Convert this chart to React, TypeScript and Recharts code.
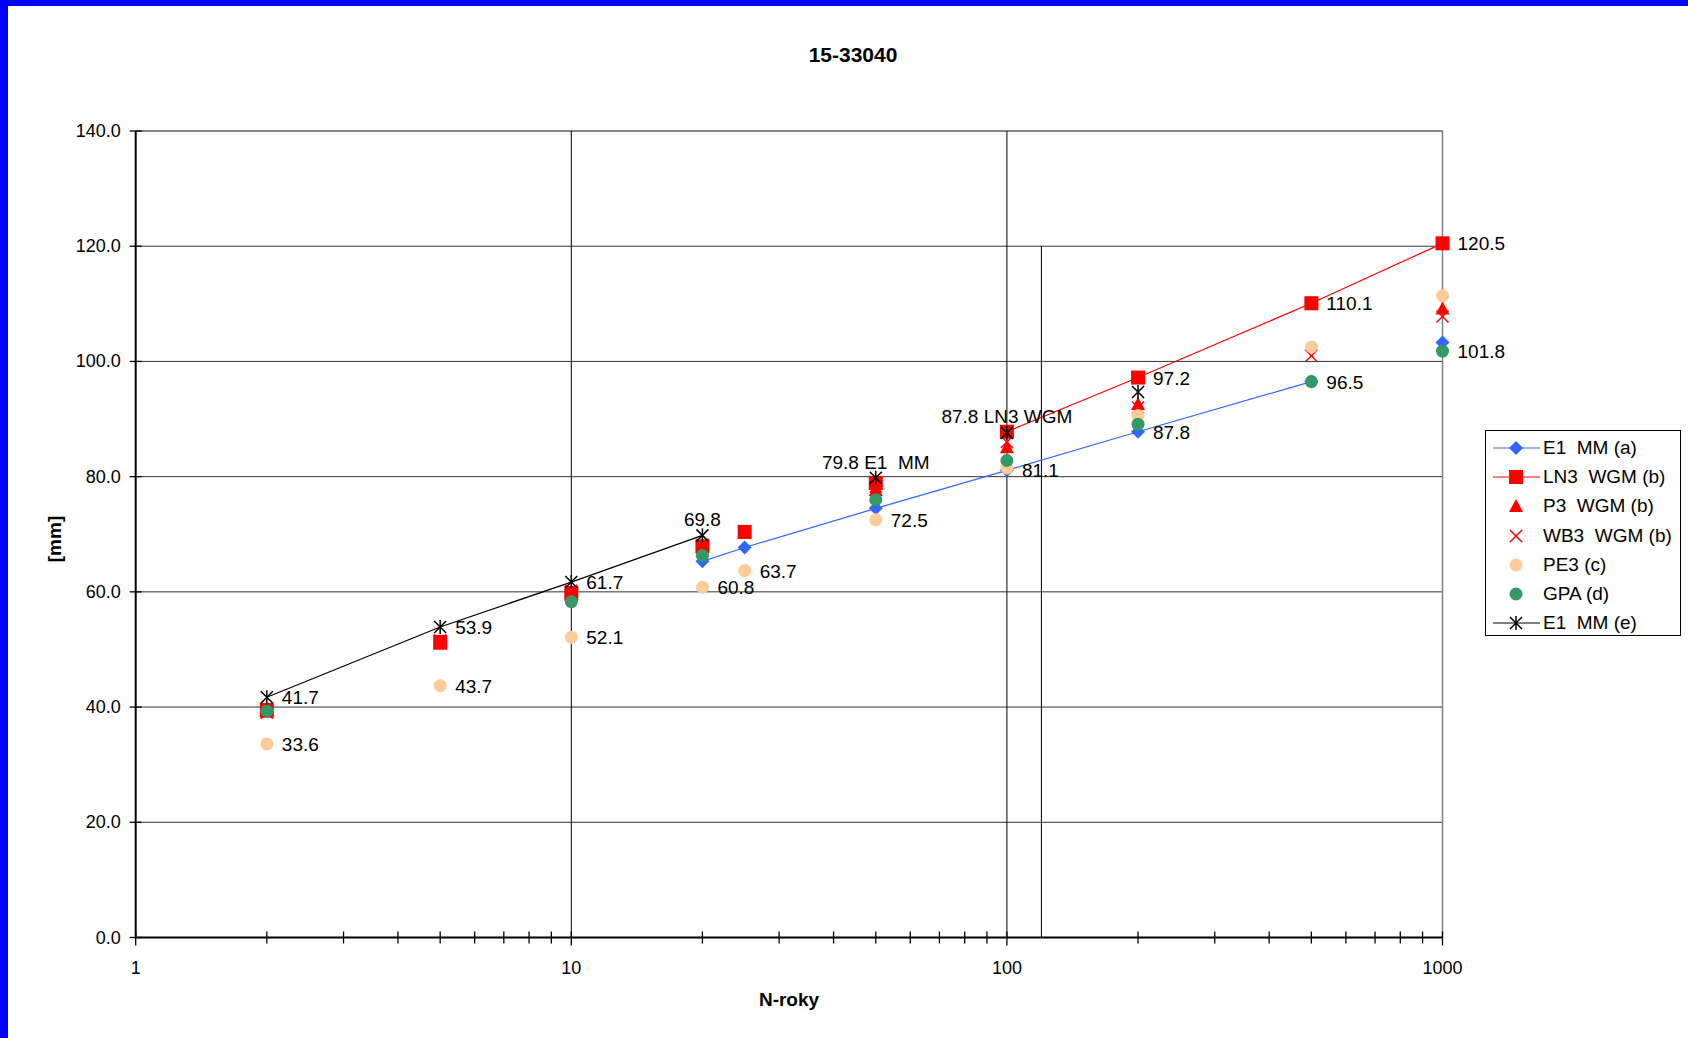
import React from 'react';
import { ScatterChart, Scatter, XAxis, YAxis, CartesianGrid, ReferenceLine } from 'recharts';

// return periods (years)
const YEARS = [2, 5, 10, 20, 25, 50, 100, 200, 500, 1000];

// values in mm, null = no point
const E1_MM_A = [null, null, null, 65.3, 67.7, 74.5, 81.1, 87.8, 96.5, 103.3];
const LN3_WGM = [39.5, 51.3, 59.8, 67.9, 70.4, 78.9, 87.8, 97.2, 110.1, 120.5];
const P3_WGM = [39.2, 51.0, 59.4, 67.2, null, 77.7, 85.1, 92.6, null, 109.2];
const WB3_WGM = [39.0, 51.6, 60.2, 68.2, null, 78.3, 86.0, 92.0, 101.0, 107.8];
const PE3 = [33.6, 43.7, 52.1, 60.8, 63.7, 72.5, 81.5, 90.6, 102.5, 111.4];
const GPA = [39.3, null, 58.3, 66.3, null, 76.0, 82.8, 89.1, 96.5, 101.8];
const E1_MM_E = [41.7, 53.9, 61.7, 69.8, null, 79.8, 87.6, 94.7, null, null];

// data labels
const E1A_LABELS = [null, null, null, null, null, null, '81.1', '87.8', null, null];
const LN3_LABELS = [null, null, null, null, null, null, '87.8 LN3 WGM', '97.2', '110.1', '120.5'];
const PE3_LABELS = ['33.6', '43.7', '52.1', '60.8', '63.7', '72.5', null, null, null, null];
const GPA_LABELS = [null, null, null, null, null, null, null, null, '96.5', '101.8'];
const E1E_LABELS = ['41.7', '53.9', '61.7', '69.8', null, '79.8 E1  MM', null, null, null, null];
const ABOVE_LABELS = ['69.8', '79.8 E1  MM', '87.8 LN3 WGM'];

// which years are joined by a line
const E1A_LINE = [20, 500];
const LN3_LINE = [100, 1000];
const E1E_LINE = [2, 20];

const X_TICKS = [1, 2, 3, 4, 5, 6, 7, 8, 9, 10, 20, 30, 40, 50, 60, 70, 80, 90, 100, 200, 300, 400, 500, 600, 700, 800, 900, 1000];
const X_LABELS = [1, 10, 100, 1000];
const Y_TICKS = [0, 20, 40, 60, 80, 100, 120, 140];

const FONT = '"Liberation Sans", Arial, sans-serif';

const pts = (vals: (number | null)[], labels?: (string | null)[]) =>
  YEARS.map((x, i) => ({ x, y: vals[i], label: labels ? labels[i] : null })).filter((p) => p.y != null);

const span = (vals: (number | null)[], range: number[]) =>
  pts(vals).filter((p) => p.x >= range[0] && p.x <= range[1]);

function Marker({ kind, cx, cy }: { kind: string; cx: number; cy: number }) {
  switch (kind) {
    case 'diamond':
      return <polygon points={`${cx},${cy - 7} ${cx + 7},${cy} ${cx},${cy + 7} ${cx - 7},${cy}`} fill="#3366ff" />;
    case 'square':
      return <rect x={cx - 7} y={cy - 7} width={14} height={14} fill="#ff0000" />;
    case 'triangle':
      return <polygon points={`${cx},${cy - 7} ${cx + 7},${cy + 6} ${cx - 7},${cy + 6}`} fill="#ff0000" />;
    case 'x':
      return (
        <g stroke="#ff0000" strokeWidth={1.5}>
          <line x1={cx - 6} y1={cy - 6} x2={cx + 6} y2={cy + 6} />
          <line x1={cx - 6} y1={cy + 6} x2={cx + 6} y2={cy - 6} />
        </g>
      );
    case 'peach':
      return <circle cx={cx} cy={cy} r={6.5} fill="#ffcc99" />;
    case 'green':
      return <circle cx={cx} cy={cy} r={6.5} fill="#339966" />;
    case 'star':
      return (
        <g stroke="#000" strokeWidth={1.5}>
          <line x1={cx - 6} y1={cy - 6} x2={cx + 6} y2={cy + 6} />
          <line x1={cx - 6} y1={cy + 6} x2={cx + 6} y2={cy - 6} />
          <line x1={cx} y1={cy - 7} x2={cx} y2={cy + 7} />
        </g>
      );
    default:
      return null;
  }
}

const shapeFor = (kind: string) => (props: any) => {
  const { cx, cy, payload } = props;
  const label = payload && payload.label;
  let text = null;
  if (label) {
    const above = ABOVE_LABELS.includes(label);
    text = above ? (
      <text x={cx} y={cy - 9} textAnchor="middle" fontSize={19} fontFamily={FONT} fill="#000" style={{ whiteSpace: 'pre' }}>
        {label}
      </text>
    ) : (
      <text x={cx + 15} y={cy + 7} textAnchor="start" fontSize={19} fontFamily={FONT} fill="#000" style={{ whiteSpace: 'pre' }}>
        {label}
      </text>
    );
  }
  return (
    <g>
      <Marker kind={kind} cx={cx} cy={cy} />
      {text}
    </g>
  );
};

const noShape = () => <g />;

const XTick = (props: any) => {
  const { x, y, payload } = props;
  const major = X_LABELS.includes(payload.value);
  return (
    <g>
      <line x1={x} y1={y - 6} x2={x} y2={y + (major ? 8 : 6)} stroke="#000" strokeWidth={1.3} />
      {major && (
        <text x={x} y={y + 36} textAnchor="middle" fontSize={18} fontFamily={FONT} fill="#000">
          {payload.value}
        </text>
      )}
    </g>
  );
};

const YTick = (props: any) => {
  const { x, y, payload } = props;
  return (
    <g>
      <line x1={x - 6} y1={y} x2={x + 6} y2={y} stroke="#000" strokeWidth={1.3} />
      <text x={x - 15} y={y + 6} textAnchor="end" fontSize={18} fontFamily={FONT} fill="#000">
        {Number(payload.value).toFixed(1)}
      </text>
    </g>
  );
};

const LEGEND = [
  { name: 'E1  MM (a)', kind: 'diamond', line: '#3366ff' },
  { name: 'LN3  WGM (b)', kind: 'square', line: '#ff0000' },
  { name: 'P3  WGM (b)', kind: 'triangle', line: null },
  { name: 'WB3  WGM (b)', kind: 'x', line: null },
  { name: 'PE3 (c)', kind: 'peach', line: null },
  { name: 'GPA (d)', kind: 'green', line: null },
  { name: 'E1  MM (e)', kind: 'star', line: '#000' },
];

export default function App() {
  return (
    <div style={{ position: 'absolute', left: 0, top: 0, width: 1688, height: 1038, background: '#fff', overflow: 'hidden' }}>
      <div style={{ position: 'absolute', left: 0, top: 0, width: 8, height: 1038, background: '#0000ff' }} />
      <div style={{ position: 'absolute', left: 0, top: 0, width: 1688, height: 6, background: '#0000ff' }} />
      <ScatterChart width={1688} height={1038} margin={{ top: 131, right: 245.5, bottom: 40.5, left: 55.7 }}>
        <CartesianGrid vertical={false} stroke="#333" strokeWidth={1} />
        <XAxis
          dataKey="x"
          type="number"
          scale="log"
          domain={[1, 1000]}
          ticks={X_TICKS}
          interval={0}
          height={60}
          tickSize={0}
          tickMargin={0}
          tickLine={false}
          tick={XTick}
          axisLine={{ stroke: '#000', strokeWidth: 2 }}
        />
        <YAxis
          dataKey="y"
          type="number"
          domain={[0, 140]}
          ticks={Y_TICKS}
          interval={0}
          width={80}
          tickSize={0}
          tickMargin={0}
          tickLine={false}
          tick={YTick}
          axisLine={{ stroke: '#000', strokeWidth: 2 }}
        />
        <ReferenceLine y={140} stroke="#808080" strokeWidth={1.5} />
        <ReferenceLine x={10} stroke="#000" strokeWidth={1} />
        <ReferenceLine x={100} stroke="#000" strokeWidth={1} />
        <ReferenceLine x={1000} stroke="#808080" strokeWidth={1.5} />
        <ReferenceLine segment={[{ x: 120, y: 0 }, { x: 120, y: 120 }]} stroke="#000" strokeWidth={1} />

        <Scatter data={span(E1_MM_A, E1A_LINE)} line={{ stroke: '#3366ff', strokeWidth: 1.2 }} shape={noShape} isAnimationActive={false} />
        <Scatter data={span(LN3_WGM, LN3_LINE)} line={{ stroke: '#ff0000', strokeWidth: 1.2 }} shape={noShape} isAnimationActive={false} />
        <Scatter data={span(E1_MM_E, E1E_LINE)} line={{ stroke: '#000', strokeWidth: 1.2 }} shape={noShape} isAnimationActive={false} />

        <Scatter name="E1  MM (a)" data={pts(E1_MM_A, E1A_LABELS)} shape={shapeFor('diamond')} isAnimationActive={false} />
        <Scatter name="LN3  WGM (b)" data={pts(LN3_WGM, LN3_LABELS)} shape={shapeFor('square')} isAnimationActive={false} />
        <Scatter name="P3  WGM (b)" data={pts(P3_WGM)} shape={shapeFor('triangle')} isAnimationActive={false} />
        <Scatter name="WB3  WGM (b)" data={pts(WB3_WGM)} shape={shapeFor('x')} isAnimationActive={false} />
        <Scatter name="PE3 (c)" data={pts(PE3, PE3_LABELS)} shape={shapeFor('peach')} isAnimationActive={false} />
        <Scatter name="GPA (d)" data={pts(GPA, GPA_LABELS)} shape={shapeFor('green')} isAnimationActive={false} />
        <Scatter name="E1  MM (e)" data={pts(E1_MM_E, E1E_LABELS)} shape={shapeFor('star')} isAnimationActive={false} />
      </ScatterChart>

      <svg width={1688} height={1038} style={{ position: 'absolute', left: 0, top: 0, pointerEvents: 'none' }}>
        <text x={853} y={62} textAnchor="middle" fontSize={21} fontWeight="bold" fontFamily={FONT}>15-33040</text>
        <text x={789} y={1006} textAnchor="middle" fontSize={19} fontWeight="bold" fontFamily={FONT}>N-roky</text>
        <text x={54} y={539} textAnchor="middle" dominantBaseline="central" fontSize={19} fontWeight="bold" fontFamily={FONT} transform="rotate(-90 54 539)">[mm]</text>
      </svg>

      <div
        style={{
          position: 'absolute',
          left: 1485,
          top: 430,
          width: 196,
          height: 206,
          border: '1px solid #000',
          background: '#fff',
          fontFamily: FONT,
          fontSize: 19,
          boxSizing: 'border-box',
        }}
      >
        {LEGEND.map((item, i) => (
          <div key={item.name} style={{ position: 'absolute', left: 0, top: 2 + i * 29.3, height: 29.3, display: 'flex', alignItems: 'center' }}>
            <svg width={52} height={20} style={{ marginLeft: 5 }}>
              {item.line && <line x1={2} y1={10} x2={49} y2={10} stroke={item.line} strokeWidth={1.2} />}
              <Marker kind={item.kind} cx={25} cy={10} />
            </svg>
            <span style={{ whiteSpace: 'pre', marginLeft: 0 }}>{item.name}</span>
          </div>
        ))}
      </div>
    </div>
  );
}
